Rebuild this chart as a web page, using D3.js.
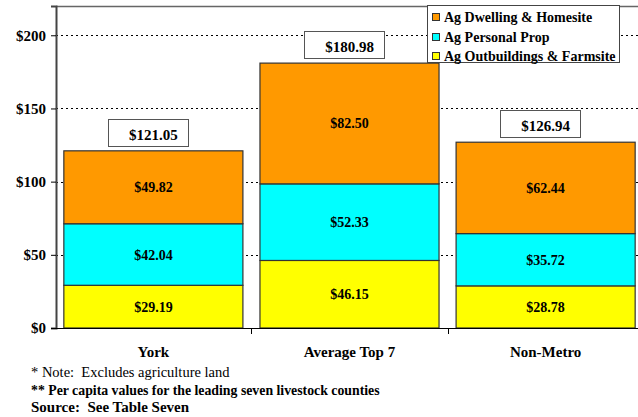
<!DOCTYPE html>
<html>
<head>
<meta charset="utf-8">
<script src="https://cdn.jsdelivr.net/npm/d3@7"></script>
<style>
  body { margin:0; background:#fff; }
  #canvas { width:638px; height:417px; }
  svg text { font-family:'Liberation Serif', Tinos, 'DejaVu Serif', serif !important; fill:#000; white-space:pre; }
</style>
</head>
<body>
<div id="canvas" class="canvas"></div>
<script>
//---- ---- DATA ---- ----
var categories = ['York', 'Average Top 7', 'Non-Metro'];
var outbuildings = [29.19, 46.15, 28.78];
var personalProp = [42.04, 52.33, 35.72];
var dwelling = [49.82, 82.50, 62.44];
var totals = [121.05, 180.98, 126.94];
var seriesNames = ['Ag Outbuildings & Farmsite', 'Ag Personal Prop', 'Ag Dwelling & Homesite'];
var seriesColors = ['#FFFF00', '#00FFFF', '#FF9900'];
var yTicks = [0, 50, 100, 150, 200];
var notes = ['* Note:  Excludes agriculture land',
             '** Per capita values for the leading seven livestock counties',
             'Source:  See Table Seven'];

//---- ---- SIZE ---- ----
var W = 638, H = 417;
var FONT = "'Liberation Serif', Tinos, 'DejaVu Serif', serif";
var svg = d3.select('.canvas').append('svg')
    .attr('width', W).attr('height', H)
    .style('font-family', FONT);

//---- ---- SCALES ---- ----
var scaleY = d3.scaleLinear().domain([0, 220]).range([328, 6]);
var scaleX = d3.scaleBand().domain(categories)
    .range([56, 643]).paddingInner(0.087).paddingOuter(0.04);

var rows = categories.map(function(c, i) {
  return { cat: c, s0: outbuildings[i], s1: personalProp[i], s2: dwelling[i] };
});
var stacked = d3.stack().keys(['s0', 's1', 's2'])(rows);

//---- ---- GRID ---- ----
svg.append('g').selectAll('line')
  .data(yTicks.filter(function(d) { return d > 0; }))
  .enter().append('line')
  .attr('x1', 56).attr('x2', W)
  .attr('y1', function(d) { return Math.round(scaleY(d)) + 0.5; })
  .attr('y2', function(d) { return Math.round(scaleY(d)) + 0.5; })
  .attr('stroke', '#000').attr('stroke-width', 1)
  .attr('stroke-dasharray', '2,3');

// top frame line
svg.append('line').attr('x1', 56).attr('x2', W).attr('y1', 6.5).attr('y2', 6.5)
  .attr('stroke', '#666').attr('stroke-width', 1.5);

//---- ---- BARS ---- ----
var layer = svg.selectAll('g.layer').data(stacked).enter()
  .append('g').attr('class', 'layer')
  .attr('fill', function(d, i) { return seriesColors[i]; });

layer.selectAll('rect').data(function(d) { return d; }).enter()
  .append('rect')
  .attr('x', function(d) { return scaleX(d.data.cat); })
  .attr('width', scaleX.bandwidth())
  .attr('y', function(d) { return scaleY(d[1]); })
  .attr('height', function(d) { return scaleY(d[0]) - scaleY(d[1]); })
  .attr('stroke', '#333').attr('stroke-width', 1.2);

layer.selectAll('text').data(function(d) { return d; }).enter()
  .append('text')
  .attr('x', function(d) { return scaleX(d.data.cat) + scaleX.bandwidth() / 2; })
  .attr('y', function(d) { return (scaleY(d[0]) + scaleY(d[1])) / 2 + 5; })
  .attr('text-anchor', 'middle')
  .style('font-size', '14px').style('font-weight', 'bold')
  .text(function(d) { return '$' + (d[1] - d[0]).toFixed(2); });

//---- ---- TOTAL BOXES ---- ----
categories.forEach(function(c, i) {
  var cx = scaleX(c) + scaleX.bandwidth() / 2;
  var top = scaleY(totals[i]);
  var g = svg.append('g');
  var rect = g.append('rect');
  var t = g.append('text')
    .attr('x', cx).attr('y', top - 11)
    .attr('text-anchor', 'middle')
    .style('font-size', '15px').style('font-weight', 'bold')
    .text('$' + totals[i].toFixed(2));
  var tw = t.node().getComputedTextLength();
  rect.attr('x', Math.round(cx - tw / 2 - 21) + 0.5)
    .attr('y', Math.round(top - 32) + 0.5)
    .attr('width', Math.round(tw + 31)).attr('height', 27)
    .attr('fill', '#fff').attr('stroke', '#555').attr('stroke-width', 1);
});

//---- ---- AXES ---- ----
var axisY = d3.axisLeft(scaleY).tickValues(yTicks)
  .tickSize(5).tickFormat(function(d) { return '$' + d; });
var gy = svg.append('g').attr('transform', 'translate(56,0)').call(axisY)
  .attr('font-family', FONT);
gy.select('.domain').attr('stroke', '#444').attr('stroke-width', 2);
gy.selectAll('.tick line').attr('stroke', '#000');
gy.selectAll('.tick text')
  .style('font-size', '15px').style('font-weight', 'bold').attr('dx', '-2');

// x axis line
svg.append('line').attr('x1', 55).attr('x2', W).attr('y1', 328.5).attr('y2', 328.5)
  .attr('stroke', '#000').attr('stroke-width', 1.2);

// ticks between categories
var step = scaleX.step();
var boundaries = categories.slice(0, -1).map(function(c) {
  return scaleX(c) + scaleX.bandwidth() + (step - scaleX.bandwidth()) / 2;
});
svg.selectAll('line.xtick').data(boundaries).enter().append('line')
  .attr('class', 'xtick')
  .attr('x1', function(d) { return Math.round(d) + 0.5; })
  .attr('x2', function(d) { return Math.round(d) + 0.5; })
  .attr('y1', 328).attr('y2', 334)
  .attr('stroke', '#000');

svg.selectAll('text.cat').data(categories).enter().append('text')
  .attr('class', 'cat')
  .attr('x', function(d) { return scaleX(d) + scaleX.bandwidth() / 2; })
  .attr('y', 357)
  .attr('text-anchor', 'middle')
  .style('font-size', '15px').style('font-weight', 'bold')
  .text(function(d) { return d; });

//---- ---- LEGEND ---- ----
var leg = svg.append('g');
leg.append('rect').attr('x', 427.5).attr('y', 5.5).attr('width', 192).attr('height', 57)
  .attr('fill', '#fff').attr('stroke', '#444').attr('stroke-width', 1);
var legOrder = [2, 1, 0];
legOrder.forEach(function(k, j) {
  var y = 17 + j * 19.5;
  leg.append('rect').attr('x', 432.5).attr('y', Math.round(y - 4) + 0.5)
    .attr('width', 7).attr('height', 7)
    .attr('fill', seriesColors[k]).attr('stroke', '#333').attr('stroke-width', 1);
  leg.append('text').attr('x', 444).attr('y', y + 5)
    .style('font-size', '14px').style('font-weight', 'bold')
    .text(seriesNames[k]);
});

//---- ---- NOTES ---- ----
var noteSizes = ['14.5px', '13.8px', '15px'];
svg.selectAll('text.note').data(notes).enter().append('text')
  .attr('class', 'note')
  .attr('x', 31)
  .attr('y', function(d, i) { return [377, 395, 412][i]; })
  .style('font-size', function(d, i) { return noteSizes[i]; })
  .style('font-weight', function(d, i) { return i === 0 ? 'normal' : 'bold'; })
  .text(function(d) { return d; });
</script>
</body>
</html>
